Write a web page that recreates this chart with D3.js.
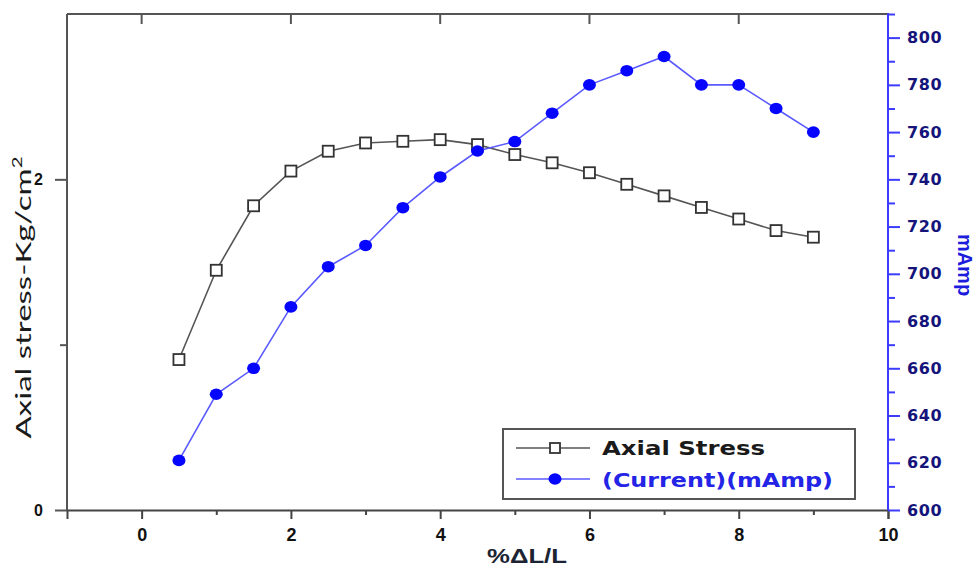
<!DOCTYPE html>
<html>
<head>
<meta charset="utf-8">
<script src="https://cdn.jsdelivr.net/npm/d3@7"></script>
<style>
  html, body { margin: 0; padding: 0; background: #fff; }
  svg { display: block; }
</style>
</head>
<body>
<svg id="chart" width="979" height="569"></svg>
<script>
// Strain (%ΔL/L) at each reading
const strain = [0.5, 1, 1.5, 2, 2.5, 3, 3.5, 4, 4.5, 5, 5.5, 6, 6.5, 7, 7.5, 8, 8.5, 9];
// Axial stress, Kg/cm²
const axialStress = [0.91, 1.45, 1.84, 2.05, 2.17, 2.22, 2.23, 2.24, 2.21, 2.15, 2.10, 2.04, 1.97, 1.90, 1.83, 1.76, 1.69, 1.65];
// Current, mAmp
const currentMA = [621, 649, 660, 686, 703, 712, 728, 741, 752, 756, 768, 780, 786, 792, 780, 780, 770, 760];

const xMajorTicks = [0, 2, 4, 6, 8, 10];
const xMinorTicks = [1, 3, 5, 7, 9];
const leftMajorTicks = [0, 2];
const leftMinorTicks = [1];
const rightMajorTicks = [600, 620, 640, 660, 680, 700, 720, 740, 760, 780, 800];
const rightMinorTicks = [610, 630, 650, 670, 690, 710, 730, 750, 770, 790, 810];

const seriesNames = ["Axial Stress", "(Current)(mAmp)"];

const W = 979, H = 569;
const plot = { left: 67, right: 888, top: 14, bottom: 510 };

const svg = d3.select("#chart");

const x = d3.scaleLinear().domain([-1, 10]).range([plot.left, plot.right]);
const yL = d3.scaleLinear().domain([0, 3]).range([plot.bottom, plot.top]);
const yR = d3.scaleLinear().domain([600, 810]).range([plot.bottom, plot.top]);

const gray = "#555";
const blueAxis = "#3c3cff";
const navy = "#14147a";

// Frame: top and left edges
svg.append("line").attr("x1", plot.left).attr("x2", plot.right)
  .attr("y1", plot.top).attr("y2", plot.top)
  .attr("stroke", gray).attr("stroke-width", 2);
svg.append("line").attr("x1", plot.left).attr("x2", plot.left)
  .attr("y1", plot.top).attr("y2", plot.bottom)
  .attr("stroke", gray).attr("stroke-width", 2);

// Inward ticks along the top edge
svg.append("g").selectAll("line").data(xMajorTicks.filter(d => d < 10)).join("line")
  .attr("x1", d => x(d)).attr("x2", d => x(d))
  .attr("y1", plot.top).attr("y2", plot.top + 10)
  .attr("stroke", gray).attr("stroke-width", 2);

// Bottom axis
const xAxis = d3.axisBottom(x).tickValues(xMajorTicks).tickSize(9).tickPadding(9).tickFormat(d3.format("d"));
const gx = svg.append("g").attr("transform", `translate(0,${plot.bottom})`).call(xAxis);
gx.select(".domain").attr("stroke", "#444").attr("stroke-width", 2);
gx.selectAll(".tick line").attr("stroke", "#444").attr("stroke-width", 2);
gx.selectAll(".tick text")
  .attr("fill", "#111").attr("font-family", "Liberation Sans, Arial, sans-serif")
  .attr("font-weight", "bold").attr("font-size", 18);
const gxMinor = d3.axisBottom(x).tickValues(xMinorTicks).tickSize(5).tickFormat("");
svg.append("g").attr("transform", `translate(0,${plot.bottom})`).call(gxMinor)
  .call(g => g.select(".domain").remove())
  .selectAll(".tick line").attr("stroke", "#444").attr("stroke-width", 2);

// Left axis
const yLAxis = d3.axisLeft(yL).tickValues(leftMajorTicks).tickSize(12).tickPadding(12).tickFormat(d3.format("d"));
const gyl = svg.append("g").attr("transform", `translate(${plot.left},0)`).call(yLAxis);
gyl.select(".domain").remove();
gyl.selectAll(".tick line").attr("stroke", gray).attr("stroke-width", 2);
gyl.selectAll(".tick text")
  .attr("fill", "#111").attr("font-family", "Liberation Sans, Arial, sans-serif")
  .attr("font-weight", "bold").attr("font-size", 16);
svg.append("g").attr("transform", `translate(${plot.left},0)`)
  .call(d3.axisLeft(yL).tickValues(leftMinorTicks).tickSize(7).tickFormat(""))
  .call(g => g.select(".domain").remove())
  .selectAll(".tick line").attr("stroke", gray).attr("stroke-width", 2);

// Right axis (current)
const yRAxis = d3.axisRight(yR).tickValues(rightMajorTicks).tickSize(12).tickPadding(7).tickFormat(d3.format("d"));
const gyr = svg.append("g").attr("transform", `translate(${plot.right},0)`).call(yRAxis);
gyr.select(".domain").attr("stroke", blueAxis).attr("stroke-width", 2)
  .attr("d", `M0,${plot.top - 1}V${plot.bottom}`);
gyr.selectAll(".tick line").attr("stroke", blueAxis).attr("stroke-width", 2);
gyr.selectAll(".tick text")
  .attr("fill", navy).attr("font-family", "DejaVu Sans, sans-serif")
  .attr("font-weight", "bold").attr("font-size", 16).attr("letter-spacing", 0.6);
svg.append("g").attr("transform", `translate(${plot.right},0)`)
  .call(d3.axisRight(yR).tickValues(rightMinorTicks).tickSize(7).tickFormat(""))
  .call(g => g.select(".domain").remove())
  .selectAll(".tick line").attr("stroke", blueAxis).attr("stroke-width", 2);

// Axis titles
svg.append("text")
  .attr("transform", `translate(31,${(153 + 442) / 2}) rotate(-90)`)
  .attr("text-anchor", "middle")
  .attr("font-family", "Lato, Open Sans, sans-serif")
  .attr("font-size", 21).attr("fill", "#1a1a1a")
  .attr("textLength", 282).attr("lengthAdjust", "spacingAndGlyphs")
  .text("Axial stress-Kg/cm")
  .append("tspan").attr("font-size", 13).attr("dy", -9).text("2");

svg.append("text")
  .attr("transform", `translate(958,265) rotate(90)`)
  .attr("text-anchor", "middle")
  .attr("font-family", "Liberation Sans, Arial, sans-serif")
  .attr("font-weight", "bold").attr("font-size", 20).attr("fill", "#1c1cdd")
  .text("mAmp");

svg.append("text")
  .attr("x", 527).attr("y", 563)
  .attr("text-anchor", "middle")
  .attr("font-family", "Liberation Sans, Arial, sans-serif")
  .attr("font-weight", "bold").attr("font-size", 21).attr("fill", "#1c2433")
  .attr("textLength", 80).attr("lengthAdjust", "spacingAndGlyphs")
  .text("%ΔL/L");

// Series
const stressPts = strain.map((s, i) => [s, axialStress[i]]);
const currentPts = strain.map((s, i) => [s, currentMA[i]]);

svg.append("path").datum(stressPts)
  .attr("fill", "none").attr("stroke", "#555").attr("stroke-width", 1.6)
  .attr("d", d3.line().x(d => x(d[0])).y(d => yL(d[1])));
svg.append("g").selectAll("rect").data(stressPts).join("rect")
  .attr("x", d => x(d[0]) - 5.5).attr("y", d => yL(d[1]) - 5.5)
  .attr("width", 11).attr("height", 11)
  .attr("fill", "#fff").attr("stroke", "#333").attr("stroke-width", 1.8);

svg.append("path").datum(currentPts)
  .attr("fill", "none").attr("stroke", "#5a5aff").attr("stroke-width", 1.6)
  .attr("d", d3.line().x(d => x(d[0])).y(d => yR(d[1])));
svg.append("g").selectAll("ellipse").data(currentPts).join("ellipse")
  .attr("cx", d => x(d[0])).attr("cy", d => yR(d[1]))
  .attr("rx", 6.5).attr("ry", 5.8)
  .attr("fill", "#0606ff");

// Legend
const lg = svg.append("g");
lg.append("rect").attr("x", 503).attr("y", 429).attr("width", 352).attr("height", 70)
  .attr("fill", "#fff").attr("stroke", gray).attr("stroke-width", 2);

lg.append("line").attr("x1", 516).attr("x2", 590).attr("y1", 448).attr("y2", 448)
  .attr("stroke", "#555").attr("stroke-width", 1.6);
lg.append("rect").attr("x", 555 - 5).attr("y", 448 - 5).attr("width", 10).attr("height", 10)
  .attr("fill", "#fff").attr("stroke", "#333").attr("stroke-width", 1.8);
lg.append("text").attr("x", 602).attr("y", 455)
  .attr("font-family", "DejaVu Sans, Verdana, sans-serif")
  .attr("font-weight", "bold").attr("font-size", 20).attr("fill", "#1a1a1a")
  .attr("textLength", 163).attr("lengthAdjust", "spacingAndGlyphs")
  .text(seriesNames[0]);

lg.append("line").attr("x1", 516).attr("x2", 590).attr("y1", 479).attr("y2", 479)
  .attr("stroke", "#5a5aff").attr("stroke-width", 1.6);
lg.append("ellipse").attr("cx", 555).attr("cy", 479).attr("rx", 6.5).attr("ry", 5.8)
  .attr("fill", "#0606ff");
lg.append("text").attr("x", 602).attr("y", 487)
  .attr("font-family", "DejaVu Sans, Verdana, sans-serif")
  .attr("font-weight", "bold").attr("font-size", 20).attr("fill", "#2424e6")
  .attr("textLength", 231).attr("lengthAdjust", "spacingAndGlyphs")
  .text(seriesNames[1]);
</script>
</body>
</html>
